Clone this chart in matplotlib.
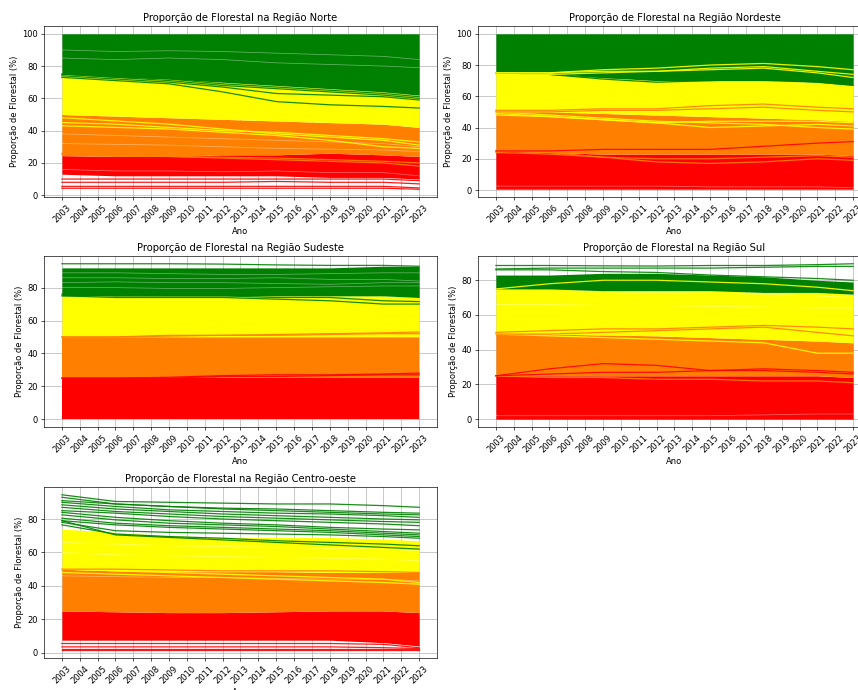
#------------------------------------------------------------------------------
#	Libraries
#------------------------------------------------------------------------------
import numpy as np
from matplotlib import pyplot as plt


#------------------------------------------------------------------------------
#	Data (values read at a few key years, % of forest per municipality)
#------------------------------------------------------------------------------
years = list(range(2003, 2024))
key_years = [2003, 2006, 2009, 2012, 2015, 2018, 2021, 2023]
classes = ['0-25', '25-50', '50-75', '75-100']

# Norte
norte_red_lo = [13, 12, 12, 12, 12, 11, 11, 10]
norte_red_hi = [24.5, 24, 24, 25, 25, 26, 25, 24]
norte_orange_hi = [50, 49, 48, 47, 46, 45, 44, 42]
norte_yellow_hi = [75, 73, 72, 70, 68, 66, 64, 62]
norte_lines = [
	('0-25', [10, 10, 10, 10, 10, 10, 10, 9]),
	('0-25', [8, 8, 8, 8, 8.5, 8, 8, 7]),
	('0-25', [5.5, 5.5, 5.5, 5.5, 5.5, 5.5, 5.5, 4.5]),
	('0-25', [4.3, 4.3, 4.3, 4.3, 4.3, 4.3, 4.3, 3.7]),
	('25-50', [26, 25, 24, 23, 22, 21, 20, 18]),
	('25-50', [25, 24.5, 24, 23.5, 23, 22, 21, 20]),
	('50-75', [48, 46, 44, 41, 38, 36, 34, 31]),
	('50-75', [45, 44, 42, 40, 39, 37, 35, 33]),
	('50-75', [43, 42, 41, 39, 37, 34, 30, 29]),
	('75-100', [74, 72, 70, 67, 63, 62, 61, 59]),
	('75-100', [73, 71, 69, 64, 58, 56, 55, 54]),
	('75-100', [75, 73, 71, 68, 66, 64, 62, 60]),
	('75-100', [75, 74, 72, 69, 67, 65, 63, 61]),
]
norte_gaps = [
	[38, 37, 36, 35, 34, 33, 32, 30],
	[32, 31.5, 31, 30, 29, 28.5, 28, 27],
	[85, 84, 85, 84, 82, 81, 80, 79],
	[90, 89, 89.5, 89, 88, 87, 86, 84],
	[16, 15, 15, 14.5, 15, 14, 14, 12],
]

# Nordeste
nordeste_red_lo = [0.5, 0.5, 0.5, 0.5, 0.5, 0.5, 0.5, 0.5]
nordeste_red_hi = [25, 24, 23, 23, 23, 23, 23, 22]
nordeste_orange_hi = [50, 50, 49, 48, 47, 46, 45, 44]
nordeste_yellow_hi = [75, 75, 72, 70, 70, 70, 69, 67]
nordeste_lines = [
	('75-100', [75, 74, 71, 69, 70, 71, 69, 67]),
	('75-100', [75, 74, 72, 71, 72, 73, 71, 71]),
	('50-75', [75, 75, 77, 78, 80, 81, 79, 77]),
	('50-75', [74, 74, 75, 76, 78, 79, 76, 74]),
	('50-75', [75, 75, 76, 76, 77, 78, 75, 72]),
	('50-75', [50, 48, 46, 44, 43, 42, 40, 39]),
	('50-75', [49, 47, 45, 43, 40, 41, 42, 41]),
	('50-75', [48, 47, 45, 43, 44, 44, 44, 43]),
	('25-50', [51, 51, 52, 52, 54, 55, 53, 52]),
	('25-50', [50, 50, 51, 51, 52, 53, 51, 50]),
	('25-50', [25, 24, 21, 18, 17, 18, 20, 19]),
	('25-50', [24, 23, 21, 20, 20, 21, 22, 21]),
	('0-25', [25, 25, 26, 26, 26, 28, 30, 31]),
]
nordeste_gaps = [
	[2.5, 2.5, 2.5, 2.5, 2, 2, 2, 1.5],
]

# Sudeste
sudeste_red_lo = [0, 0, 0, 0, 0, 0, 0, 0]
sudeste_red_hi = [25, 25, 25, 25, 25, 25, 25, 25]
sudeste_orange_hi = [50, 50, 50, 50, 50, 50, 50, 50]
sudeste_yellow_hi = [75, 75, 75, 75, 75, 75, 75, 74]
sudeste_green_hi = [92, 92, 92, 92, 92, 92, 93, 93]
sudeste_lines = [
	('75-100', [94.5, 94.5, 94.5, 94.3, 93.8, 93.5, 93.5, 93]),
	('75-100', [75, 74, 74, 74, 73, 72, 70, 70]),
	('75-100', [76, 75, 75, 75, 74, 74, 72, 71.5]),
	('25-50', [50, 50, 51, 51, 51.5, 52, 52.5, 53]),
	('25-50', [50, 50, 50.5, 51, 51, 51.5, 52, 52]),
	('0-25', [25, 25, 25.5, 26.5, 27, 27, 27.5, 28]),
	('0-25', [25, 25, 25, 26, 26, 26.5, 27, 27]),
]
sudeste_gaps = [
	[80, 80, 79.5, 79.5, 80, 80.5, 81, 81],
	[86, 86, 85.5, 85.5, 86, 85, 85, 84],
	[83, 83.5, 83, 83, 82.5, 82, 83, 83],
	[89, 89, 88.5, 88, 88, 88.5, 89, 89],
]

# Sul
sul_red_lo = [0, 0, 0, 0, 0, 0, 0, 0]
sul_red_hi = [25, 25, 25, 25, 25, 25, 25, 24]
sul_orange_hi = [49.5, 49, 48.5, 48, 47, 46, 45, 44]
sul_yellow_hi = [75, 75, 74, 74, 74, 73, 73, 72]
sul_green_hi = [83, 83, 84, 84, 83, 82, 80, 79]
sul_lines = [
	('75-100', [88.5, 88.5, 88.3, 88.2, 88.5, 88.5, 89, 89.5]),
	('75-100', [86.5, 87, 87, 87, 87, 87.5, 88, 88]),
	('75-100', [86, 86, 85, 84.5, 83, 82, 81, 80]),
	('50-75', [75, 78, 80, 80, 79, 78, 76, 74]),
	('50-75', [49, 48, 47, 46, 45, 44, 38, 38]),
	('25-50', [50, 51, 52, 52, 53, 54, 53, 52]),
	('25-50', [49, 49, 50, 51, 52, 53, 50, 48]),
	('25-50', [25, 24, 24, 23, 23, 22, 22, 21]),
	('0-25', [25, 29, 32, 31, 28, 29, 28, 27]),
	('0-25', [25, 26, 27, 27, 28, 28, 27, 26]),
]
sul_gaps = [
	[72.5, 72.5, 72.5, 73, 72.5, 72, 71, 70],
	[66, 66, 65.5, 65.5, 65, 64.5, 64, 64],
	[2, 2, 2, 2, 2, 2.5, 3, 3],
]

# Centro-oeste
co_red_lo = [7.5, 7.5, 7.5, 7.5, 7.5, 7.5, 6, 4]
co_red_hi = [25, 24.5, 24, 24, 24.5, 25, 25, 24]
co_orange_hi = [50, 49, 48.5, 48.5, 48.5, 48, 48, 48]
co_yellow_hi = [74, 72, 70, 69, 69, 69, 68, 67]
co_lines = [
	('0-25', [5.5, 5.5, 5.5, 5.5, 5.5, 5.5, 5, 3]),
	('0-25', [3.5, 3.5, 3.5, 3.5, 3.5, 3.5, 3, 2.5]),
	('0-25', [2, 2, 2, 2, 2, 2, 2, 2]),
	('0-25', [1.5, 1.5, 1.5, 1.5, 1.5, 1.5, 1.5, 1.5]),
	('50-75', [50, 49, 48, 47, 46, 45, 44, 42]),
	('50-75', [48, 47, 46, 45, 44, 43, 42, 41]),
	('25-50', [50, 50, 49.5, 49, 49, 49, 48.5, 48]),
	('75-100', [94.5, 90.5, 90, 89.5, 89, 89, 88, 87]),
	('75-100', [93, 89, 87.5, 86.5, 86, 85, 84, 83.5]),
	('75-100', [91, 89, 87.5, 86, 85, 84, 83, 82.5]),
	('75-100', [90, 87.5, 85.5, 84.5, 83.5, 83, 82, 81]),
	('75-100', [88.5, 86, 84.5, 83, 82, 81, 80, 79.5]),
	('75-100', [87, 84.5, 83, 81.5, 80.5, 79.5, 78.5, 78]),
	('75-100', [85, 83.5, 81.5, 80, 79, 78, 77, 76]),
	('75-100', [84, 81, 79, 77.5, 76.5, 75, 74, 73.5]),
	('75-100', [82.5, 79.5, 77.5, 76.5, 75.5, 74, 72.5, 71.5]),
	('75-100', [80.5, 77.5, 76, 75, 74, 73, 71.5, 70.5]),
	('75-100', [79, 76.5, 75, 74, 73, 72, 70.5, 69.5]),
	('75-100', [78, 73, 72, 71.5, 71, 70.5, 69.5, 68.5]),
	('75-100', [79, 70.5, 69, 67.5, 66, 64.5, 63, 62]),
	('75-100', [76.5, 71, 69.5, 68.5, 67, 66, 65, 64]),
]
co_gaps = [
	[60, 58.5, 58, 57.5, 57, 56.5, 56, 55],
	[66, 65, 64, 63.5, 63, 62.5, 62, 61],
	[46, 45.5, 45, 45, 44.5, 44, 44, 43],
	[6.5, 6.5, 6.5, 6.5, 6.5, 6.5, 5.5, 3.5],
]

hundred = [100] * len(key_years)

regions = [
	('Norte', [norte_red_lo, norte_red_hi, norte_orange_hi, norte_yellow_hi, hundred],
		norte_lines, norte_gaps),
	('Nordeste', [nordeste_red_lo, nordeste_red_hi, nordeste_orange_hi, nordeste_yellow_hi, hundred],
		nordeste_lines, nordeste_gaps),
	('Sudeste', [sudeste_red_lo, sudeste_red_hi, sudeste_orange_hi, sudeste_yellow_hi, sudeste_green_hi],
		sudeste_lines, sudeste_gaps),
	('Sul', [sul_red_lo, sul_red_hi, sul_orange_hi, sul_yellow_hi, sul_green_hi],
		sul_lines, sul_gaps),
	('Centro-oeste', [co_red_lo, co_red_hi, co_orange_hi, co_yellow_hi, None],
		co_lines, co_gaps),
]


#------------------------------------------------------------------------------
#	Plot
#------------------------------------------------------------------------------
colors = {'0-25': '#ff0000', '25-50': '#ff8000', '50-75': '#ffff00', '75-100': '#008000'}

# axes boxes in figure fraction [left, bottom, width, height]
boxes = [
	[0.0513, 0.7145, 0.4580, 0.2478],
	[0.5571, 0.7145, 0.4580, 0.2478],
	[0.0513, 0.3812, 0.4580, 0.2478],
	[0.5571, 0.3812, 0.4580, 0.2478],
	[0.0513, 0.0464, 0.4580, 0.2478],
]

fig = plt.figure(figsize=(14.3, 11.5), dpi=60)

for (name, edges, lines, gaps), box in zip(regions, boxes):
	ax = fig.add_axes(box)
	ax.set_axisbelow(True)

	# Dense bands of municipalities, one per class
	for k, cls in enumerate(classes):
		lo, hi = edges[k], edges[k + 1]
		if hi is None:
			continue
		ax.fill_between(key_years, lo, hi, color=colors[cls], linewidth=0)

	# Thin white gaps between municipality lines
	for g in gaps:
		ax.plot(key_years, g, color='white', alpha=0.4, linewidth=0.9)

	# Single municipality lines
	for cls, vals in lines:
		ax.plot(key_years, vals, color=colors[cls], alpha=0.9, linewidth=1.5)

	ax.set_xticks(years)
	ax.set_xticklabels([str(y) for y in years], rotation=45)
	ax.set_title('Proporção de Florestal na Região %s' % name)
	ax.set_xlabel('Ano')
	ax.set_ylabel('Proporção de Florestal (%)')
	ax.grid(True)

plt.savefig('out.png', dpi=60)
